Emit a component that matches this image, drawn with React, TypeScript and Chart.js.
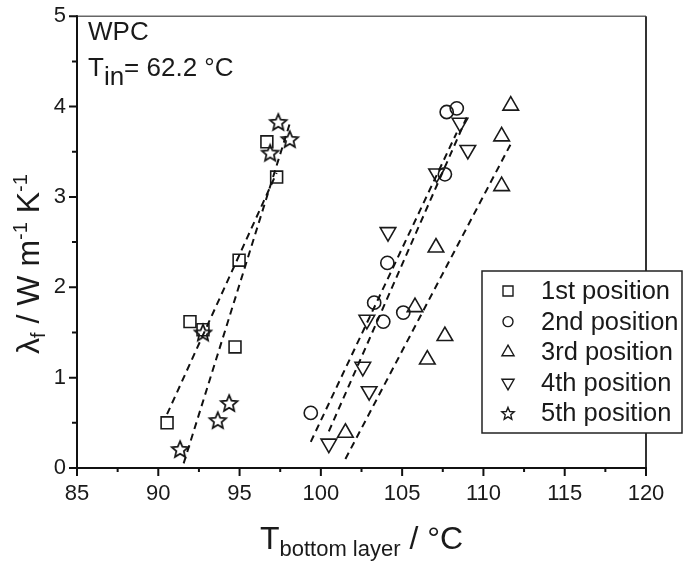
import React, { useEffect, useRef } from "react";
import { Chart, registerables } from "chart.js";

Chart.register(...registerables);

// ---- data ----
const seriesNames = ["1st position", "2nd position", "3rd position", "4th position", "5th position"];

const pos1X = [90.54, 91.95, 92.75, 94.72, 94.97, 97.28, 96.68];
const pos1Y = [0.5, 1.62, 1.53, 1.34, 2.3, 3.22, 3.61];

const pos2X = [99.38, 103.28, 103.84, 104.09, 105.07, 107.63, 107.74, 108.36];
const pos2Y = [0.61, 1.83, 1.62, 2.27, 1.72, 3.25, 3.94, 3.98];

const pos3X = [101.51, 106.55, 105.79, 107.63, 107.08, 111.12, 111.12, 111.68];
const pos3Y = [0.39, 1.2, 1.78, 1.46, 2.44, 3.12, 3.67, 4.01];

const pos4X = [100.49, 102.58, 102.83, 102.97, 104.13, 107.12, 108.56, 109.04];
const pos4Y = [0.27, 1.12, 1.64, 0.85, 2.61, 3.26, 3.82, 3.52];

const pos5X = [91.34, 93.66, 94.36, 92.75, 96.88, 97.38, 98.09];
const pos5Y = [0.21, 0.53, 0.72, 1.5, 3.49, 3.83, 3.64];

const xTicks = [85, 90, 95, 100, 105, 110, 115, 120];
const yTicks = [0, 1, 2, 3, 4, 5];

const FONT = "'Liberation Sans', Arial, Helvetica, sans-serif";
const INK = "#1a1a1a";

function toPoints(xs: number[], ys: number[]) {
  return xs.map((x, i) => ({ x, y: ys[i] }));
}

// least-squares linear fit over the data range
function fitLine(xs: number[], ys: number[]) {
  const n = xs.length;
  const mx = xs.reduce((a, b) => a + b, 0) / n;
  const my = ys.reduce((a, b) => a + b, 0) / n;
  let sxy = 0, sxx = 0;
  for (let i = 0; i < n; i++) {
    sxy += (xs[i] - mx) * (ys[i] - my);
    sxx += (xs[i] - mx) * (xs[i] - mx);
  }
  const b = sxy / sxx;
  const a = my - b * mx;
  const x0 = Math.min(...xs);
  const x1 = Math.max(...xs);
  return [{ x: x0, y: a + b * x0 }, { x: x1, y: a + b * x1 }];
}

function starPath(ctx: CanvasRenderingContext2D, cx: number, cy: number, ro: number, ri: number) {
  ctx.beginPath();
  for (let i = 0; i < 10; i++) {
    const r = i % 2 === 0 ? ro : ri;
    const a = -Math.PI / 2 + (i * Math.PI) / 5;
    const px = cx + r * Math.cos(a);
    const py = cy + r * Math.sin(a);
    if (i === 0) ctx.moveTo(px, py);
    else ctx.lineTo(px, py);
  }
  ctx.closePath();
}

function makeStarCanvas(ro: number) {
  const c = document.createElement("canvas");
  const s = 24;
  c.width = s;
  c.height = s;
  const ctx = c.getContext("2d")!;
  ctx.strokeStyle = "#111";
  ctx.lineWidth = 1.7;
  ctx.lineJoin = "miter";
  starPath(ctx, s / 2, s / 2 + 0.8, ro, ro * 0.45);
  ctx.stroke();
  return c;
}

type Run = { t: string; size: number; dy: number };

function drawRuns(ctx: CanvasRenderingContext2D, runs: Run[], x: number, y: number) {
  let cx = x;
  for (const r of runs) {
    ctx.font = `${r.size}px ${FONT}`;
    ctx.fillText(r.t, cx, y + r.dy);
    cx += ctx.measureText(r.t).width;
  }
  return cx;
}
function runsWidth(ctx: CanvasRenderingContext2D, runs: Run[]) {
  let w = 0;
  for (const r of runs) {
    ctx.font = `${r.size}px ${FONT}`;
    w += ctx.measureText(r.t).width;
  }
  return w;
}

export default function App() {
  const ref = useRef<HTMLCanvasElement | null>(null);

  useEffect(() => {
    const canvas = ref.current!;
    const starBig = makeStarCanvas(8.7);

    const markerCommon = {
      backgroundColor: "rgba(0,0,0,0)",
      borderColor: "#1a1a1a",
      borderWidth: 1.6,
      showLine: false,
    };

    const fitCommon = {
      type: "line" as const,
      showLine: true,
      pointRadius: 0,
      borderColor: "#111",
      borderWidth: 2,
      borderDash: [7, 5],
      fill: false,
    };

    const datasets: any[] = [
      { ...fitCommon, label: "fit1", data: fitLine(pos1X, pos1Y) },
      { ...fitCommon, label: "fit2", data: fitLine(pos2X, pos2Y) },
      { ...fitCommon, label: "fit3", data: fitLine(pos3X, pos3Y) },
      { ...fitCommon, label: "fit4", data: fitLine(pos4X, pos4Y) },
      { ...fitCommon, label: "fit5", data: fitLine(pos5X, pos5Y) },
      { ...markerCommon, label: seriesNames[0], data: toPoints(pos1X, pos1Y), pointStyle: "rect", pointRadius: 8.4 },
      { ...markerCommon, label: seriesNames[1], data: toPoints(pos2X, pos2Y), pointStyle: "circle", pointRadius: 6.6 },
      { ...markerCommon, label: seriesNames[2], data: toPoints(pos3X, pos3Y), pointStyle: "triangle", pointRadius: 9 },
      { ...markerCommon, label: seriesNames[3], data: toPoints(pos4X, pos4Y), pointStyle: "triangle", pointRotation: 180, pointRadius: 9 },
      { ...markerCommon, label: seriesNames[4], data: toPoints(pos5X, pos5Y), pointStyle: starBig, pointRadius: 9 },
    ];

    const framePlugin = {
      id: "frame",
      afterDraw(chart: any) {
        const ctx: CanvasRenderingContext2D = chart.ctx;
        const { left, right, top, bottom } = chart.chartArea;
        const xs = chart.scales.x;
        const ys = chart.scales.y;
        ctx.save();

        // frame
        ctx.lineCap = "butt";
        ctx.strokeStyle = "#666";
        ctx.lineWidth = 1.5;
        ctx.beginPath();
        ctx.moveTo(left, top);
        ctx.lineTo(right, top);
        ctx.stroke();
        ctx.strokeStyle = "#333";
        ctx.lineWidth = 2;
        ctx.beginPath();
        ctx.moveTo(right, top);
        ctx.lineTo(right, bottom);
        ctx.stroke();
        ctx.strokeStyle = "#111";
        ctx.lineWidth = 2;
        ctx.beginPath();
        ctx.moveTo(left, top - 1);
        ctx.lineTo(left, bottom + 1);
        ctx.moveTo(left - 1, bottom);
        ctx.lineTo(right + 1, bottom);
        ctx.stroke();

        // ticks
        ctx.lineWidth = 2;
        ctx.beginPath();
        for (let i = 0; i < xTicks.length; i++) {
          const px = xs.getPixelForValue(xTicks[i]);
          ctx.moveTo(px, bottom);
          ctx.lineTo(px, bottom + 8);
          if (i < xTicks.length - 1) {
            const pm = xs.getPixelForValue((xTicks[i] + xTicks[i + 1]) / 2);
            ctx.moveTo(pm, bottom);
            ctx.lineTo(pm, bottom + 4);
          }
        }
        for (let i = 0; i < yTicks.length; i++) {
          const py = ys.getPixelForValue(yTicks[i]);
          ctx.moveTo(left, py);
          ctx.lineTo(left - 8, py);
          if (i < yTicks.length - 1) {
            const pm = ys.getPixelForValue((yTicks[i] + yTicks[i + 1]) / 2);
            ctx.moveTo(left, pm);
            ctx.lineTo(left - 5, pm);
          }
        }
        ctx.stroke();

        // axis titles
        ctx.fillStyle = INK;
        ctx.textAlign = "left";
        ctx.textBaseline = "alphabetic";
        const xRuns: Run[] = [
          { t: "T", size: 32, dy: 0 },
          { t: "bottom layer", size: 22, dy: 7 },
          { t: " / °C", size: 32, dy: 0 },
        ];
        const xw = runsWidth(ctx, xRuns);
        drawRuns(ctx, xRuns, (left + right) / 2 - xw / 2, 549);

        const yRuns: Run[] = [
          { t: "λ", size: 32, dy: 0 },
          { t: "f", size: 20, dy: 6 },
          { t: " / W m", size: 32, dy: 0 },
          { t: "-1", size: 20, dy: -12 },
          { t: " K", size: 32, dy: 0 },
          { t: "-1", size: 20, dy: -12 },
        ];
        const yw = runsWidth(ctx, yRuns);
        ctx.save();
        ctx.translate(39, 264 + yw / 2);
        ctx.rotate(-Math.PI / 2);
        drawRuns(ctx, yRuns, 0, 0);
        ctx.restore();

        // annotations
        ctx.font = `26px ${FONT}`;
        ctx.fillText("WPC", 88, 40);
        drawRuns(ctx, [
          { t: "T", size: 26, dy: 0 },
          { t: "in", size: 26, dy: 9 },
          { t: "= 62.2 °C", size: 26, dy: 0 },
        ], 88, 76);

        // legend
        const lx0 = 482, ly0 = 271, lx1 = 682, ly1 = 433;
        ctx.fillStyle = "#fff";
        ctx.fillRect(lx0, ly0, lx1 - lx0, ly1 - ly0);
        ctx.strokeStyle = "#222";
        ctx.lineWidth = 1.5;
        ctx.strokeRect(lx0, ly0, lx1 - lx0, ly1 - ly0);
        const mx = 508;
        ctx.lineWidth = 1.4;
        ctx.strokeStyle = "#1a1a1a";
        for (let i = 0; i < seriesNames.length; i++) {
          const cy = 291 + i * 30.6;
          ctx.beginPath();
          if (i === 0) {
            ctx.rect(mx - 5, cy - 5, 10, 10);
          } else if (i === 1) {
            ctx.arc(mx, cy, 5, 0, Math.PI * 2);
          } else if (i === 2) {
            const r = 7;
            ctx.moveTo(mx, cy - r);
            ctx.lineTo(mx + r * 0.866, cy + r / 2);
            ctx.lineTo(mx - r * 0.866, cy + r / 2);
            ctx.closePath();
          } else if (i === 3) {
            const r = 7;
            ctx.moveTo(mx, cy + r);
            ctx.lineTo(mx + r * 0.866, cy - r / 2);
            ctx.lineTo(mx - r * 0.866, cy - r / 2);
            ctx.closePath();
          } else {
            starPath(ctx, mx, cy + 0.5, 6.5, 6.5 * 0.45);
          }
          ctx.stroke();
          ctx.fillStyle = INK;
          ctx.font = `25.5px ${FONT}`;
          ctx.fillText(seriesNames[i], 541, cy + 8);
        }

        ctx.restore();
      },
    };

    const chart = new Chart(canvas, {
      type: "scatter",
      data: { datasets },
      options: {
        animation: false,
        responsive: false,
        maintainAspectRatio: false,
        layout: { padding: { left: 0, right: 39, top: 9, bottom: 0 } },
        plugins: { legend: { display: false }, tooltip: { enabled: false } },
        scales: {
          x: {
            type: "linear",
            min: 85,
            max: 120,
            ticks: { stepSize: 5, color: INK, padding: 5, font: { family: FONT, size: 22 } },
            grid: { display: true, drawOnChartArea: false, drawTicks: true, tickLength: 8, color: "rgba(0,0,0,0)" },
            border: { display: false },
            afterFit: (s: any) => { s.height = 95; },
          },
          y: {
            type: "linear",
            min: 0,
            max: 5,
            ticks: { stepSize: 1, color: INK, padding: 3, font: { family: FONT, size: 22 } },
            grid: { display: true, drawOnChartArea: false, drawTicks: true, tickLength: 8, color: "rgba(0,0,0,0)" },
            border: { display: false },
            afterFit: (s: any) => { s.width = 77; },
          },
        },
      },
      plugins: [framePlugin],
    } as any);

    return () => chart.destroy();
  }, []);

  return (
    <canvas
      ref={ref}
      width={685}
      height={563}
      style={{ position: "absolute", left: 0, top: 0, display: "block" }}
    />
  );
}
